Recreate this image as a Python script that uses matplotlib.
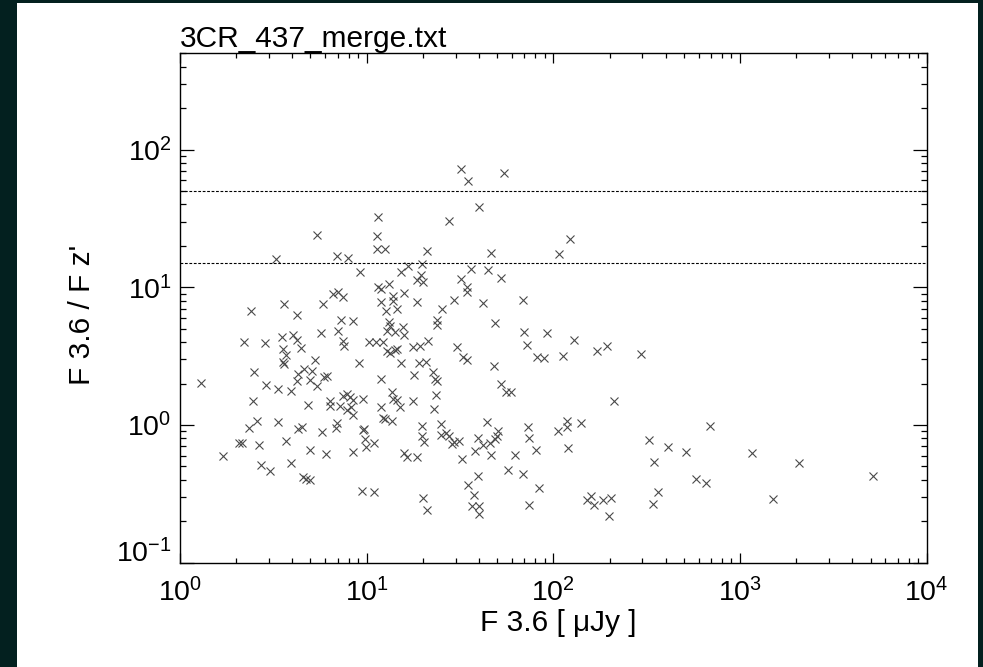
import matplotlib
matplotlib.use("Agg")
import matplotlib.pyplot as plt
from matplotlib.patches import Rectangle
from matplotlib.ticker import LogLocator, NullFormatter

plt.rcParams['font.family'] = ['Liberation Sans', 'DejaVu Sans']
plt.rcParams['mathtext.fontset'] = 'custom'
plt.rcParams['mathtext.rm'] = 'Liberation Sans'
plt.rcParams['mathtext.it'] = 'Liberation Sans'

# F 3.6 [uJy] and F3.6 / Fz' ratio
flux_36 = [
    5.4, 3.27, 6.9, 7.98, 9.2, 11.5, 11.3, 11.3, 2.40, 3.61, 4.25, 5.81, 6.58, 7.05,
    7.50, 7.26, 8.42, 11.5,
    32.0, 34.8, 54.4, 39.8, 27.5, 122.8, 107, 21.0, 46.2, 12.5, 36.1, 44.8, 52.3, 32.0,
    34.6, 34.6, 29.4, 42.2, 68.5, 25.2, 48.7, 23.7, 23.7, 19.7, 19.5, 16.6, 15.2, 18.5,
    20.1, 13.1, 12.0, 13.9, 13.9, 15.9, 18.7, 12.7, 14.6, 12.0, 13.1, 13.3, 15.7,
    1.30, 2.21, 2.85, 3.51, 4.05, 4.22, 4.43, 3.58, 3.70, 3.58, 3.62, 5.69, 7.0, 7.50,
    7.56, 10.3, 11.2, 9.13, 5.29, 2.50, 2.88, 3.34, 3.93, 4.30, 4.62, 4.22, 5.08, 4.97,
    5.40, 5.91, 6.11, 4.87, 2.45, 6.36, 6.36, 7.20, 7.50, 7.82, 8.15, 8.42, 9.52, 7.82,
    8.49, 8.22, 2.58, 2.34, 3.36, 4.30, 4.49, 5.74, 6.85, 6.96, 9.52, 9.7, 3.70, 2.08,
    2.14, 2.65, 1.71, 4.97, 6.03, 8.49, 9.80, 9.92, 11.0, 2.72, 3.03, 3.93, 4.58, 4.73,
    4.97, 9.40, 10.9,
    12.2, 12.9, 13.3, 14.2, 14.6, 12.9, 14.2, 15.85, 17.8, 19.3, 21.4, 15.2, 19.1, 20.8,
    17.9, 12.0, 22.8, 23.2, 23.7, 23.5, 22.9, 30.4, 32.7, 34.6, 48.3, 52.3, 55.8, 59.3,
    69.6, 92.1, 129.5, 72, 81.5, 89.1, 112.2, 13.6, 13.9, 14.5, 15.0, 17.7, 12.0, 12.2,
    12.6, 13.6, 44.0, 25.0, 19.9, 19.7, 20.3, 25.0, 26.6, 27.7, 28.5, 29.4, 31.2, 32.3,
    38.0, 39.6, 42.2, 45.8, 48.7, 50.7, 50.1, 46.4, 62.3, 73.5, 74.4, 80.4, 106, 118,
    119, 120, 140, 15.85, 16.4, 18.7, 57.0, 69.0, 84.2, 39.6, 35.1, 37.7, 36.5, 40.1,
    40.0, 20.0, 21.0, 74.4,
    172, 195, 295, 212, 691, 325, 410, 514, 1156, 2080, 5140, 346, 581, 658, 362, 341,
    1507, 151, 159, 166, 184, 204, 199,
]
ratio = [
    24.1, 16.1, 16.9, 16.3, 13.0, 32.2, 23.4, 19.1, 6.67, 7.55, 6.24, 7.55, 8.97, 9.23,
    8.49, 5.80, 5.68, 10.0,
    72.7, 59.2, 68.0, 38.3, 30.3, 22.3, 17.5, 18.2, 17.6, 19.1, 13.5, 13.3, 11.7, 11.5,
    10.0, 9.3, 8.15, 7.71, 8.15, 6.9, 5.49, 5.8, 5.34, 14.7, 12.2, 14.2, 12.9, 11.2,
    10.9, 10.6, 9.75, 8.63, 8.0, 9.06, 7.88, 6.67, 6.9, 7.88, 5.58, 5.22, 5.14,
    2.01, 3.99, 3.93, 4.34, 4.51, 4.15, 3.61, 3.57, 3.23, 2.86, 2.78, 4.67, 4.85, 4.10,
    3.74, 4.03, 4.03, 2.81, 2.94, 2.42, 1.95, 1.83, 1.76, 2.35, 2.55, 2.08, 2.48, 2.13,
    1.91, 2.22, 2.26, 1.40, 1.49, 1.50, 1.37, 1.38, 1.63, 1.68, 1.59, 1.53, 1.55, 1.29,
    1.18, 1.35, 1.07, 0.946, 1.06, 0.935, 0.962, 0.894, 0.946, 1.03, 0.92, 0.935, 0.77, 0.74,
    0.74, 0.716, 0.598, 0.658, 0.615, 0.64, 0.791, 0.689, 0.74, 0.512, 0.465, 0.529, 0.417, 0.405,
    0.40, 0.33, 0.324,
    4.0, 3.47, 3.34, 3.53, 3.57, 4.85, 4.77, 4.51, 3.67, 3.74, 4.10, 2.83, 2.83, 2.89,
    2.31, 2.14, 2.44, 2.16, 2.07, 1.65, 1.31, 3.67, 3.11, 2.98, 2.70, 1.99, 1.73, 1.73,
    4.77, 4.64, 4.17, 3.82, 3.14, 3.07, 3.19, 1.75, 1.55, 1.53, 1.35, 1.50, 1.35, 1.13,
    1.10, 1.07, 1.05, 1.02, 0.98, 0.828, 0.748, 0.846, 0.87, 0.828, 0.728, 0.748, 0.77, 0.566,
    0.65, 0.80, 0.716, 0.74, 0.791, 0.91, 0.828, 0.605, 0.608, 0.962, 0.80, 0.661, 0.91, 1.07,
    0.97, 0.68, 1.04, 0.625, 0.582, 0.587, 0.471, 0.44, 0.347, 0.428, 0.366, 0.311, 0.259, 0.259,
    0.225, 0.293, 0.241, 0.262,
    3.47, 3.74, 3.28, 1.50, 0.99, 0.778, 0.695, 0.64, 0.622, 0.529, 0.428, 0.535, 0.405, 0.379, 0.327, 0.266,
    0.29, 0.286, 0.303, 0.263, 0.286, 0.293, 0.217,
]
ref_levels = [50, 15]

fig = plt.figure(figsize=(9.83, 6.67), dpi=100)
fig.patch.set_facecolor('#03201f')
panel = Rectangle((17 / 983, 0), (978 - 17) / 983, 664 / 667,
                  transform=fig.transFigure, facecolor='white',
                  edgecolor='none', zorder=-5)
fig.patches.append(panel)

ax = fig.add_axes([180 / 983, 104.3 / 667, 746.7 / 983, 509.4 / 667])
ax.set_zorder(1)
ax.set_xscale('log')
ax.set_yscale('log')
ax.set_xlim(1, 1e4)
ax.set_ylim(0.1, 500)

ax.plot(flux_36, ratio, linestyle='none', marker='x', markersize=6.2,
        markeredgewidth=0.8, color='#4a4a4a')
for lev in ref_levels:
    ax.axhline(lev, color='black', linewidth=0.8, linestyle=(0, (2.5, 1.5)))

for s in ax.spines.values():
    s.set_linewidth(1.0)
ax.xaxis.set_major_locator(LogLocator(base=10, numticks=10))
ax.xaxis.set_minor_locator(LogLocator(base=10, subs=range(2, 10), numticks=50))
ax.yaxis.set_major_locator(LogLocator(base=10, numticks=10))
ax.yaxis.set_minor_locator(LogLocator(base=10, subs=range(2, 10), numticks=50))
ax.xaxis.set_minor_formatter(NullFormatter())
ax.yaxis.set_minor_formatter(NullFormatter())
ax.tick_params(which='both', direction='in', top=True, right=True, width=0.9)
ax.tick_params(axis='x', which='major', length=7, labelsize=20.5, pad=11)
ax.tick_params(axis='x', which='minor', length=3.5)
ax.tick_params(axis='y', which='major', length=10, labelsize=20.5, pad=6)
ax.tick_params(axis='y', which='minor', length=4.5)

ax.set_xlabel('F 3.6 [ μJy ]', fontsize=21.5, va='top')
ax.xaxis.set_label_coords(0.507, -0.091)
ax.set_ylabel("F 3.6 / F z'", fontsize=21.5)
ax.yaxis.set_label_coords(-0.112, 0.486)
ax.set_title('3CR_437_merge.txt', fontsize=21.5, loc='left', pad=4)

# lowest y label sits on its tick (baseline), as in the original plot
fig.canvas.draw()
for loc, tick in zip(ax.get_yticks(), ax.yaxis.get_major_ticks()):
    if abs(loc - 0.1) < 1e-9:
        tick.label1.set_va('baseline')

fig.savefig('out.png', dpi=100, facecolor=fig.get_facecolor())
